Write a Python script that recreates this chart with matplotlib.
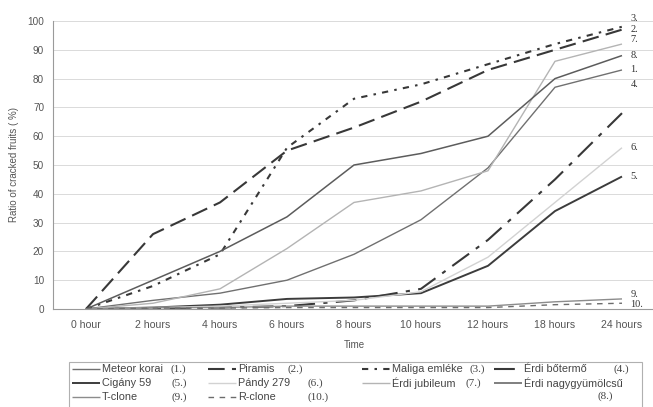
#!/usr/bin/env python
# -*- coding: utf-8 -*-
"""Cracking ratio of cherry fruits over time (line chart recreation)."""

import matplotlib as mpl; mpl.use('Agg')
import matplotlib.pyplot as plt
from matplotlib.lines import Line2D
from matplotlib.patches import Rectangle

# --- data
times = ['0 hour', '2 hours', '4 hours', '6 hours', '8 hours',
         '10 hours', '12 hours', '18 hours', '24 hours']

meteor_korai  = [0, 3.0, 5.5, 10, 19, 31, 49, 77, 83]
piramis       = [0, 26, 37, 55, 63, 72, 83, 90, 97]
maliga_emleke = [0, 8, 19, 56, 73, 78, 85, 92, 98]
erdi_botermo  = [0, 0.3, 0.5, 1.0, 3.0, 7.0, 24, 45, 68]
cigany_59     = [0, 0.5, 1.5, 3.5, 4.0, 5.5, 15, 34, 46]
pandy_279     = [0, 0.5, 1.0, 2.0, 3.0, 6.0, 18, 37, 56]
erdi_jubileum = [0, 2.0, 7.0, 21, 37, 41, 48, 86, 92]
erdi_nagygyum = [0, 10, 20, 32, 50, 54, 60, 80, 88]
t_clone       = [0, 0.5, 0.5, 1.0, 1.0, 1.0, 1.0, 2.5, 3.5]
r_clone       = [0, 0.3, 0.3, 0.5, 0.5, 0.5, 0.5, 1.5, 2.0]

names = ['Meteor korai', 'Piramis', 'Maliga emléke', 'Érdi bőtermő',
         'Cigány 59', 'Pándy 279', 'Érdi jubileum', 'Érdi nagygyümölcsű',
         'T-clone', 'R-clone']
numbers = ['(1.)', '(2.)', '(3.)', '(4.)', '(5.)', '(6.)', '(7.)', '(8.)', '(9.)', '(10.)']
end_tags = ['1.', '2.', '3.', '4.', '5.', '6.', '7.', '8.', '9.', '10.']
series = [meteor_korai, piramis, maliga_emleke, erdi_botermo, cigany_59,
          pandy_279, erdi_jubileum, erdi_nagygyum, t_clone, r_clone]

# --- styles: (color, linewidth, dashes)
styles = [
    ('#707070', 1.0, None),
    ('#383838', 1.5, (8, 3.5)),
    ('#383838', 1.5, (3, 3, 1.2, 3)),
    ('#383838', 1.5, (10, 4, 2, 4)),
    ('#3c3c3c', 1.4, None),
    ('#d2d2d2', 1.0, None),
    ('#b4b4b4', 1.0, None),
    ('#5c5c5c', 1.1, None),
    ('#8c8c8c', 1.0, None),
    ('#6c6c6c', 1.0, (4, 4)),
]
# where the end tags sit (data units), spread apart like in the figure
tag_y = [83, 97, 101, 78, 46, 56, 93.5, 88, 5, 1.5]

# legend layout in pixels of the 653x407 picture (rows filled left to right)
leg_handle_x = [72, 208, 362, 494]
leg_number_x = [[170, 172, 172], [287, 307, 308], [470, 465], [613, 597]]
leg_row_y = [369, 383, 397]

W, H = 653, 407
plt.rcParams['font.family'] = ['Liberation Sans', 'DejaVu Sans']

fig = plt.figure(figsize=(W/100, H/100), dpi=100)
ax = fig.add_axes([52.5/W, 98/H, 603/W, 288/H])

x = list(range(len(times)))
for vals, (col, lw, dash) in zip(series, styles):
    ln, = ax.plot(x, vals, color=col, lw=lw, solid_capstyle='butt')
    if dash is not None:
        ln.set_dashes(dash)

for tag, ty in zip(end_tags, tag_y):
    ax.annotate(tag, xy=(len(times) - 1, ty), xytext=(6, 0), textcoords='offset points',
                va='center', ha='left', fontsize=7.5, color='#333333',
                family='Liberation Serif', annotation_clip=False)

# --- axes format
ax.set_xlim(-0.5, 8.5)
ax.set_ylim(0, 100)
ax.set_xticks(x)
ax.set_xticklabels(times)
ax.set_yticks(range(0, 101, 10))
ax.tick_params(length=0, labelsize=7.6, colors='#555555', pad=8)
ax.tick_params(axis='y', labelsize=7.2, pad=6)
ax.yaxis.grid(True, color='#dadada', lw=0.7)
ax.set_axisbelow(True)
for s in ['top', 'right']:
    ax.spines[s].set_visible(False)
for s in ['left', 'bottom']:
    ax.spines[s].set_color('#9a9a9a')
    ax.spines[s].set_linewidth(0.8)
ax.set_xlabel('Time', fontsize=7, color='#555555', labelpad=7)
ax.set_ylabel('Ratio of cracked fruits ( %)', fontsize=7, color='#555555', labelpad=6)

# --- legend drawn by hand so the columns sit where the reference has them
def fx(px): return px / W
def fy(py): return 1 - py / H

fig.add_artist(Rectangle((fx(69), fy(408)), fx(642) - fx(69), fy(362) - fy(408),
                         transform=fig.transFigure, fill=False,
                         edgecolor='#b0b0b0', lw=0.8))
for i, (name, num, (col, lw, dash)) in enumerate(zip(names, numbers, styles)):
    row, c = divmod(i, 4)
    x0, y0 = leg_handle_x[c], leg_row_y[row]
    h = Line2D([fx(x0), fx(x0 + 28)], [fy(y0), fy(y0)], transform=fig.transFigure,
               color=col, lw=lw, solid_capstyle='butt')
    if dash is not None:
        h.set_dashes(dash)
    fig.add_artist(h)
    fig.text(fx(x0 + 30), fy(y0), name, fontsize=7.8, color='#444444', va='center')
    ny = y0 + 13 if name.startswith('Érdi nagy') else y0
    fig.text(fx(leg_number_x[c][row]), fy(ny), num, fontsize=8, color='#444444',
             va='center', family='Liberation Serif')

fig.savefig('out.png', dpi=100)
